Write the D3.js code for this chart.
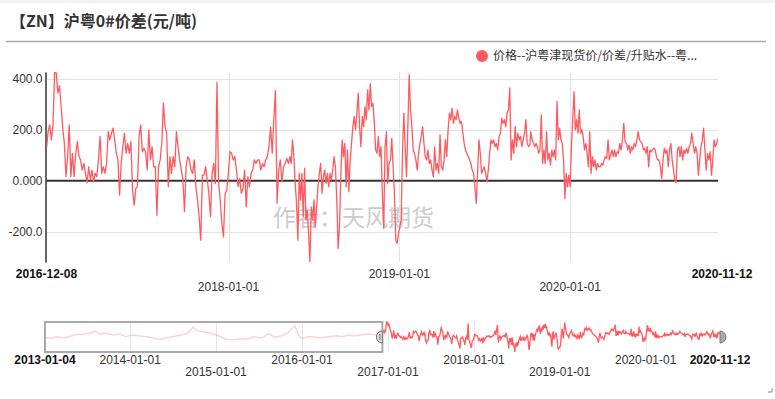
<!DOCTYPE html>
<html>
<head>
<meta charset="utf-8">
<script src="https://cdn.jsdelivr.net/npm/d3@7"></script>
<style>
  body { margin: 0; background: #fff; }
  svg { display: block; }
</style>
</head>
<body>
<div id="chart"></div>
<script>
// ---- data ----
var titleText = "【ZN】沪粤0#价差(元/吨)";
var legendText = "价格--沪粤津现货价/价差/升贴水--粤...";
var watermarkText = "作者：天风期货";

var yTicks = [400, 200, 0, -200];
var yTickLabels = ["400.0", "200.0", "0.000", "-200.0"];

var mainTicks = ["2016-12-08", "2018-01-01", "2019-01-01", "2020-01-01", "2020-11-12"];
var navTicks = ["2013-01-04", "2014-01-01", "2015-01-01", "2016-01-01", "2017-01-01",
                "2018-01-01", "2019-01-01", "2020-01-01", "2020-11-12"];

// 2016-12-08 .. 2018-05-09
var seg1 = [128,193,220,161,220,428,424,345,374,292,207,147,16,95,220,16,108,16,108,154,95,82,42,68,29,-8,55,3,42,-4,
  29,16,82,174,29,55,29,68,193,161,187,207,161,108,82,-57,68,134,187,108,147,108,154,-37,-96,-30,-24,174,220,114,
  128,114,42,200,82,134,55,55,-136,55,82,147,305,213,187,-24,95,29,95,55,193,134,82,42,3,-122,55,95,82,42,
  29,82,-24,-76,-142,-234,22,22,55,3,-50,-142,29,68,-11,387,-11,-76,-168,-221,-50,-37,29,114,108,82,95,42,-24,9,
  -50,-30,42,-103,16,-24,29,42,82,68,82,82,42,68,55,82,95,134,213,108,240,355,-89,42,82,-4,55,68,88,68];
// 2018-05-12 .. 2019-10-07
var seg2 = [95,68,161,95,-11,-89,-234,29,-76,29,-142,49,-155,-116,-208,-320,-103,-155,-76,-182,-103,-24,29,68,-50,16,42,-11,29,-24,
  29,3,42,95,55,-76,-267,-182,16,161,95,147,-24,121,-43,82,147,213,253,200,266,345,213,134,253,213,292,240,358,279,
  382,292,305,226,121,108,174,95,134,-50,-188,134,193,-11,68,82,167,55,-50,-234,-247,-208,-182,-155,108,266,134,16,213,417,
  279,213,121,108,82,42,108,147,174,213,147,95,82,121,68,82,42,16,134,42,68,29,180,55,42,82,161,95,200,266,
  240,286,226,253,240,279,246,226,233,187,147,121,108,95,82,68,42,29,-24,-89,29,161,108,29,42,55,29,-4,42,108,
  161,147,161,134,147,121,174,187,246,226,240,213,266,279,365,82,161,108,213,134,187,161,174,134,161,187,240,147,134,141];
// 2019-10-09 .. 2020-11-12
var seg3 = [193,161,147,134,147,134,108,121,259,68,121,68,193,82,108,62,121,95,121,82,312,161,207,161,147,82,-70,29,-24,22,
  -24,134,240,351,200,240,187,279,187,200,174,121,147,108,55,193,29,95,55,82,42,68,55,55,68,62,82,95,88,161,
  82,101,121,95,121,95,114,108,147,121,161,226,154,147,121,141,108,134,121,147,134,161,193,161,154,147,121,128,108,134,
  55,121,114,121,128,121,95,82,82,55,9,82,128,108,121,55,121,147,82,42,3,-8,121,134,95,134,82,121,108,128,
  108,134,147,187,147,108,134,108,22,82,134,161,207,121,42,108,82,114,22,82,161,134,147,167];
// navigator history 2013-01-04 .. 2016-12-08
var histValues = [48,31,22,48,65,39,31,65,82,107,132,115,132,149,166,200,132,141,149,124,107,115,132,98,65,90,107,90,82,73,
  65,48,31,14,-3,14,31,48,65,82,98,115,132,217,301,217,200,183,166,149,124,98,65,22,-3,-11,-20,-3,14,5,
  -3,31,65,39,22,65,132,107,48,65,82,115,166,251,335,132,22,39,65,56,48,39,31,48,65,73,82,73,65,82,
  98,90,82,98,107,124,132,115,107,90,65];

// ---- helpers ----
var parse = d3.timeParse("%Y-%m-%d");
function spread(values, start, end) {
  var t0 = +parse(start), t1 = +parse(end), n = values.length;
  return values.map(function (v, i) { return { date: new Date(t0 + (t1 - t0) * i / (n - 1)), value: v }; });
}
var mainData = spread(seg1, "2016-12-08", "2018-05-09")
  .concat(spread(seg2, "2018-05-12", "2019-10-07"))
  .concat(spread(seg3, "2019-10-09", "2020-11-12"));
var histData = spread(histValues, "2013-01-04", "2016-12-08");

var width = 775, height = 399;
var red = "#ff5a5f";
var svg = d3.select("#chart").append("svg")
    .attr("width", width)
    .attr("height", height)
    .style("font-family", "'Liberation Sans', Arial, sans-serif");

// header
svg.append("rect").attr("width", width).attr("height", 3).attr("fill", "#f2f2f2");
svg.append("text")
    .attr("x", 10).attr("y", 27)
    .style("font-family", "'Noto Sans CJK SC', sans-serif")
    .style("font-size", "16px").style("font-weight", "bold").attr("fill", "#333")
    .text(titleText);
svg.append("line").attr("x1", 6).attr("x2", 766).attr("y1", 41.5).attr("y2", 41.5)
    .attr("stroke", "#aaa").attr("stroke-width", 1.5);

// legend
svg.append("circle").attr("cx", 482).attr("cy", 56).attr("r", 6).attr("fill", red);
svg.append("text").attr("x", 493).attr("y", 60)
    .style("font-family", "'Noto Sans CJK SC', sans-serif").style("font-size", "12px")
    .attr("fill", "#333").text(legendText);

// ---- main chart ----
var pLeft = 46.5, pRight = 718, pTop = 72, pBottom = 262;
var allValues = mainData.concat(histData).map(function (d) { return d.value; });
var x = d3.scaleTime().domain([parse(mainTicks[0]), parse(mainTicks[mainTicks.length - 1])]).range([pLeft, pRight]);
var y = d3.scaleLinear().domain(d3.extent(allValues)).range([pBottom, pTop]);

// grid
svg.append("g").selectAll("line")
  .data(yTicks.filter(function (d) { return d !== 0; }))
  .join("line")
    .attr("x1", pLeft).attr("x2", pRight)
    .attr("y1", function (d) { return Math.round(y(d)) + 0.5; })
    .attr("y2", function (d) { return Math.round(y(d)) + 0.5; })
    .attr("stroke", "#e3e3e3");
svg.append("g").selectAll("line")
  .data(mainTicks.slice(1, -1))
  .join("line")
    .attr("x1", function (d) { return Math.round(x(parse(d))) + 0.5; })
    .attr("x2", function (d) { return Math.round(x(parse(d))) + 0.5; })
    .attr("y1", pTop).attr("y2", pBottom)
    .attr("stroke", "#e3e3e3");

// watermark
svg.append("text").attr("x", 273).attr("y", 226)
    .style("font-family", "'Noto Sans CJK SC', sans-serif").style("font-size", "23px")
    .attr("fill", "#cccccc").text(watermarkText);

// y axis
var yAxis = svg.append("g")
    .attr("transform", "translate(" + (pLeft - 1) + ",0)")
    .call(d3.axisLeft(y).tickValues(yTicks).tickSize(0).tickPadding(3)
      .tickFormat(function (d, i) { return yTickLabels[i]; }));
yAxis.select(".domain").attr("stroke", "#333").attr("stroke-width", 1.5);
yAxis.selectAll("text").style("font-size", "12px").attr("fill", "#333")
    .style("font-family", "'Liberation Sans', Arial, sans-serif");

// zero line
svg.append("line").attr("x1", pLeft).attr("x2", pRight)
    .attr("y1", y(0)).attr("y2", y(0))
    .attr("stroke", "#333").attr("stroke-width", 2);

svg.append("clipPath").attr("id", "clipMain")
  .append("rect").attr("x", pLeft).attr("y", pTop).attr("width", pRight - pLeft).attr("height", pBottom - pTop);

var line = d3.line().x(function (d) { return x(d.date); }).y(function (d) { return y(d.value); });
svg.append("path").datum(mainData)
    .attr("clip-path", "url(#clipMain)")
    .attr("fill", "none").attr("stroke", red).attr("stroke-width", 1.3)
    .attr("stroke-linejoin", "round")
    .attr("d", line);

// x labels (staggered)
var mainRows = [0, 1, 0, 1, 0];
svg.append("g").selectAll("text")
  .data(mainTicks)
  .join("text")
    .attr("x", function (d, i) { return x(parse(d)) + (i === mainTicks.length - 1 ? 4 : 0); })
    .attr("y", function (d, i) { return 278 + mainRows[i] * 13; })
    .attr("text-anchor", "middle")
    .style("font-size", "12px")
    .style("font-weight", function (d, i) { return (i === 0 || i === mainTicks.length - 1) ? "bold" : "normal"; })
    .attr("fill", function (d, i) { return (i === 0 || i === mainTicks.length - 1) ? "#111" : "#333"; })
    .text(function (d) { return d; });

// ---- navigator ----
var nLeft = 45, nRight = 720, nTop = 322, nBottom = 352;
var xn = d3.scaleTime().domain([parse(navTicks[0]), parse(navTicks[navTicks.length - 1])]).range([nLeft, nRight]);
var yn = d3.scaleLinear().domain(d3.extent(allValues)).range([nBottom, nTop]);

svg.append("g").selectAll("line")
  .data(navTicks.slice(1, -1))
  .join("line")
    .attr("x1", function (d) { return Math.round(xn(parse(d))) + 0.5; })
    .attr("x2", function (d) { return Math.round(xn(parse(d))) + 0.5; })
    .attr("y1", nTop).attr("y2", nBottom)
    .attr("stroke", "#e6e6e6");

var navLine = d3.line().x(function (d) { return xn(d.date); }).y(function (d) { return yn(d.value); });
svg.append("path").datum(histData)
    .attr("fill", "none").attr("stroke", red).attr("stroke-opacity", 0.3).attr("stroke-width", 1.3)
    .attr("d", navLine);
svg.append("path").datum(mainData)
    .attr("fill", "none").attr("stroke", red).attr("stroke-width", 1.3)
    .attr("d", navLine);

var boxRight = xn(parse(mainTicks[0]));
svg.append("rect")
    .attr("x", nLeft).attr("y", nTop).attr("width", boxRight - nLeft).attr("height", nBottom - nTop)
    .attr("fill", "none").attr("stroke", "#aaa").attr("stroke-width", 2);

var hy = (nTop + nBottom) / 2;
svg.append("path")
    .attr("d", "M" + boxRight + "," + (hy - 6) + "A6,6 0 0,0 " + boxRight + "," + (hy + 6) + "Z")
    .attr("fill", "#ddd").attr("stroke", "#777");
svg.append("line").attr("x1", boxRight - 2.5).attr("x2", boxRight - 2.5).attr("y1", hy - 3).attr("y2", hy + 3)
    .attr("stroke", "#777");
svg.append("path")
    .attr("d", "M" + nRight + "," + (hy - 6) + "A6,6 0 0,1 " + nRight + "," + (hy + 6) + "Z")
    .attr("fill", "#aaa").attr("stroke", "#777");

var navRows = [0, 0, 1, 0, 1, 0, 1, 0, 0];
svg.append("g").selectAll("text")
  .data(navTicks)
  .join("text")
    .attr("x", function (d) { return xn(parse(d)); })
    .attr("y", function (d, i) { return 364 + navRows[i] * 12; })
    .attr("text-anchor", "middle")
    .style("font-size", "12px")
    .style("font-weight", function (d, i) { return (i === 0 || i === navTicks.length - 1) ? "bold" : "normal"; })
    .attr("fill", function (d, i) { return (i === 0 || i === navTicks.length - 1) ? "#111" : "#333"; })
    .text(function (d) { return d; });

// resize corner mark
svg.append("path").attr("d", "M772,388V392H768").attr("fill", "none").attr("stroke", "#888");
</script>
</body>
</html>
